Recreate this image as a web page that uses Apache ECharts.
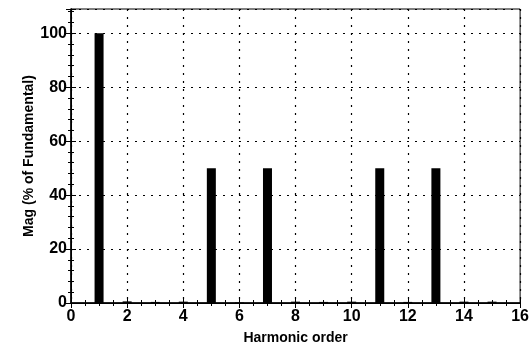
<!DOCTYPE html>
<html>
<head>
<meta charset="utf-8">
<script src="https://cdn.jsdelivr.net/npm/echarts@6/dist/echarts.min.js"></script>
<style>
    html, body { margin: 0; padding: 0; background: #fff; }
    #chart { width: 532px; height: 351px; }
</style>
</head>
<body>
<div id="chart"></div>
<script>
    // harmonic spectrum, % of fundamental
    var harmonics = [1, 2, 3, 4, 5, 6, 7, 8, 9, 10, 11, 12, 13, 14, 15];
    var magnitudes = [100, 0.6, 0.4, 0.5, 50, 0.2, 50, 0.5, 0.4, 0.5, 50, 0.4, 50, 0.5, 0.5];
    var xTicks = [0, 2, 4, 6, 8, 10, 12, 14, 16];
    var yTicks = [0, 20, 40, 60, 80, 100];

    var barData = [];
    for (var i = 0; i < harmonics.length; i++) {
        barData.push([harmonics[i], magnitudes[i]]);
    }

    var font = 'Liberation Sans, Arial, sans-serif';
    var dotted = { color: '#000', width: 1.2, type: [2, 6] };

    var chart = echarts.init(document.getElementById('chart'));
    chart.setOption({
        animation: false,
        grid: { left: 71, right: 10, top: 9, bottom: 48, show: true, borderColor: '#000', borderWidth: 1 },
        xAxis: [{
            type: 'value',
            min: 0, max: 16, interval: 2,
            name: 'Harmonic order',
            nameLocation: 'middle',
            nameGap: 28,
            nameMoveOverlap: false,
            nameTextStyle: { fontFamily: font, fontWeight: 'bold', fontSize: 14, color: '#000' },
            axisLine: { lineStyle: { color: '#000', width: 1.5 } },
            axisTick: { inside: true, length: 5, lineStyle: { color: '#000' } },
            minorTick: { show: true, splitNumber: 4, length: 3, lineStyle: { color: '#000' } },
            axisLabel: {
                fontFamily: font, fontWeight: 'bold', fontSize: 16, color: '#000', margin: 6,
                formatter: function (v) { return xTicks.indexOf(v) >= 0 ? String(v) : ''; }
            },
            splitLine: { show: true, lineStyle: dotted }
        }, {
            type: 'value', position: 'top',
            min: 0, max: 16, interval: 2,
            axisLine: { show: true, lineStyle: { color: '#000' } },
            axisTick: { inside: true, length: 5, lineStyle: { color: '#000' } },
            minorTick: { show: true, splitNumber: 4, length: 3, lineStyle: { color: '#000' } },
            axisLabel: { show: false },
            splitLine: { show: false }
        }],
        yAxis: [{
            type: 'value',
            min: 0, max: 109, interval: 20,
            name: 'Mag (% of Fundamental)',
            nameLocation: 'middle',
            nameGap: 35,
            nameMoveOverlap: false,
            nameTextStyle: { fontFamily: font, fontWeight: 'bold', fontSize: 14, color: '#000' },
            axisLine: { show: true, lineStyle: { color: '#000', width: 1.5 } },
            axisTick: { inside: true, length: 5, lineStyle: { color: '#000' } },
            minorTick: { show: true, splitNumber: 5, length: 3, lineStyle: { color: '#000' } },
            axisLabel: {
                fontFamily: font, fontWeight: 'bold', fontSize: 16, color: '#000', margin: 4,
                showMaxLabel: false,
                formatter: function (v) { return yTicks.indexOf(v) >= 0 ? String(v) : ''; }
            },
            splitLine: { show: true, lineStyle: dotted }
        }, {
            type: 'value', position: 'right',
            min: 0, max: 109, interval: 20,
            axisLine: { show: true, lineStyle: { color: '#000' } },
            axisTick: { inside: true, length: 5, lineStyle: { color: '#000' } },
            minorTick: { show: true, splitNumber: 5, length: 3, lineStyle: { color: '#000' } },
            axisLabel: { show: false },
            splitLine: { show: false }
        }],
        series: [{
            type: 'bar',
            xAxisIndex: 0,
            yAxisIndex: 0,
            barWidth: 9,
            itemStyle: { color: '#000' },
            data: barData
        }]
    });
</script>
</body>
</html>
